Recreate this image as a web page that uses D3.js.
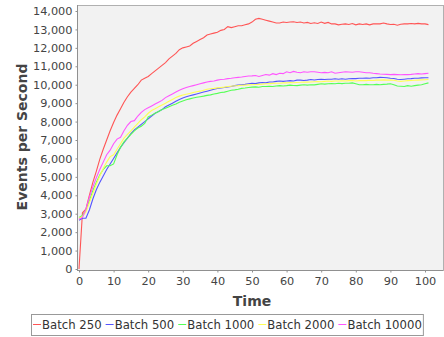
<!DOCTYPE html>
<html>
<head>
<meta charset="utf-8">
<script src="https://cdn.jsdelivr.net/npm/d3@7/dist/d3.min.js"></script>
<style>
  body { margin: 0; background: #fff; }
  text { font-family: "DejaVu Sans", Verdana, sans-serif; }
</style>
</head>
<body>
<div id="placeholder"></div>
<script>
var times = d3.range(0, 102);

var batch250 = [0, 3050, 3250, 4000, 4700, 5300, 5950, 6500, 7000, 7500,
  7950, 8350, 8700, 9050, 9350, 9600, 9800, 10000, 10250, 10350,
  10450, 10600, 10750, 10900, 11050, 11200, 11400, 11550, 11700, 11900,
  12000, 12050, 12100, 12250, 12350, 12450, 12550, 12700, 12750, 12800,
  12850, 12950, 13000, 13150, 13100, 13150, 13200, 13200, 13250, 13300,
  13400, 13550, 13600, 13550, 13500, 13450, 13400, 13350, 13350, 13400,
  13380, 13400, 13420, 13380, 13400, 13350, 13380, 13320, 13360, 13320,
  13400, 13330, 13380, 13300, 13300, 13250, 13280, 13300, 13270, 13320,
  13250, 13300, 13270, 13300, 13250, 13300, 13300, 13300, 13350, 13300,
  13270, 13280, 13230, 13280, 13300, 13300, 13320, 13300, 13330, 13300,
  13300, 13260];

var batch500 = [2650, 2750, 2750, 3200, 3800, 4300, 4700, 5050, 5400, 5700,
  6000, 6300, 6600, 6850, 7100, 7350, 7550, 7700, 7850, 8000,
  8150, 8300, 8450, 8550, 8650, 8800, 8900, 9000, 9100, 9200,
  9280, 9350, 9400, 9450, 9500, 9550, 9600, 9650, 9700, 9750,
  9800, 9820, 9850, 9880, 9900, 9950, 9980, 10000, 10020, 10050,
  10080, 10060, 10100, 10120, 10100, 10150, 10150, 10180, 10200, 10180,
  10200, 10220, 10200, 10250, 10250, 10230, 10250, 10280, 10260, 10280,
  10300, 10280, 10300, 10300, 10320, 10300, 10320, 10300, 10320, 10340,
  10330, 10350, 10350, 10360, 10350, 10380, 10380, 10400, 10390, 10380,
  10350, 10340, 10300, 10280, 10300, 10320, 10330, 10350, 10350, 10370,
  10380, 10380];

var batch1000 = [2800, 2900, 3200, 3700, 4250, 4700, 5100, 5400, 5600, 5600,
  5700, 6200, 6600, 6900, 7100, 7300, 7500, 7650, 7750, 7900,
  8250, 8350, 8450, 8550, 8650, 8720, 8800, 8880, 8950, 9050,
  9120, 9180, 9230, 9280, 9320, 9350, 9380, 9420, 9450, 9500,
  9530, 9580, 9600, 9650, 9700, 9720, 9750, 9800, 9820, 9850,
  9870, 9880, 9860, 9900, 9900, 9920, 9900, 9930, 9950, 9930,
  9950, 9980, 9960, 9950, 9980, 10000, 9980, 10000, 9990, 10020,
  10050, 10030, 10050, 10060, 10050, 10080, 10060, 10080, 10080, 10100,
  10050, 10000, 10000, 10020, 10000, 10000, 10020, 10000, 10020, 10030,
  10050, 10000, 9930, 9920, 9900, 9950, 9920, 9950, 9980, 10000,
  10050, 10100];

var batch2000 = [2750, 2850, 3100, 3600, 4100, 4600, 5050, 5450, 5800, 6100,
  6200, 6500, 6800, 7100, 7300, 7500, 7700, 7900, 8100, 8250,
  8450, 8600, 8700, 8800, 8900, 9000, 9100, 9200, 9300, 9380,
  9440, 9480, 9520, 9580, 9620, 9650, 9700, 9750, 9780, 9800,
  9830, 9850, 9870, 9900, 9920, 9940, 9950, 9970, 9980, 9990,
  10000, 10010, 10020, 10030, 10050, 10060, 10070, 10080, 10080, 10100,
  10100, 10120, 10110, 10120, 10130, 10150, 10140, 10150, 10160, 10170,
  10160, 10180, 10200, 10180, 10200, 10200, 10210, 10200, 10220, 10230,
  10200, 10220, 10230, 10220, 10240, 10230, 10250, 10250, 10260, 10250,
  10250, 10240, 10200, 10180, 10200, 10220, 10230, 10240, 10250, 10260,
  10270, 10280];

var batch10000 = [2700, 2800, 3250, 3900, 4450, 4950, 5400, 5800, 6200, 6450,
  6800, 7050, 7150, 7500, 7800, 8000, 8050, 8300, 8500, 8650,
  8750, 8850, 8950, 9050, 9150, 9300, 9400, 9500, 9600, 9700,
  9780, 9850, 9900, 9950, 10000, 10050, 10100, 10150, 10180, 10200,
  10250, 10280, 10300, 10330, 10350, 10380, 10400, 10420, 10450, 10470,
  10480, 10500, 10450, 10500, 10550, 10520, 10600, 10550, 10620, 10600,
  10700, 10650, 10720, 10680, 10650, 10700, 10680, 10700, 10700, 10680,
  10650, 10670, 10650, 10700, 10620, 10650, 10680, 10700, 10690, 10680,
  10700, 10700, 10680, 10650, 10650, 10620, 10600, 10580, 10570, 10560,
  10550, 10560, 10550, 10540, 10550, 10550, 10560, 10580, 10600, 10580,
  10600, 10620];

var seriesNames = ["Batch 250", "Batch 500", "Batch 1000", "Batch 2000", "Batch 10000"];
var seriesValues = [batch250, batch500, batch1000, batch2000, batch10000];
var seriesColors = ["#FF5555", "#5555FF", "#55FF55", "#FFFF55", "#FF55FF"];

var xTicks = [0, 10, 20, 30, 40, 50, 60, 70, 80, 90, 100];
var yTicks = [0, 1000, 2000, 3000, 4000, 5000, 6000, 7000, 8000, 9000, 10000, 11000, 12000, 13000, 14000];

var W = 444, H = 337;
var plot = { left: 77, top: 5, right: 443, bottom: 270 };

var svg = d3.select("#placeholder").append("svg")
  .attr("width", W).attr("height", H);

var x = d3.scaleLinear().domain([0, 100]).range([79, 425]);
var y = d3.scaleLinear().domain([0, 14000]).range([269, 11]);

// plot background
svg.append("rect")
  .attr("x", plot.left).attr("y", plot.top)
  .attr("width", plot.right - plot.left).attr("height", plot.bottom - plot.top)
  .style("fill", "#f2f2f2")
  .style("stroke", "#b0b0b0")
  .style("stroke-width", 1)
  .attr("transform", "translate(0.5,0.5)");

// axes
var xAxis = svg.append("g")
  .attr("transform", "translate(0," + (plot.bottom + 0.5) + ")")
  .call(d3.axisBottom(x).tickValues(xTicks).tickSize(2).tickSizeOuter(0).tickFormat(d3.format("d")));
var yAxis = svg.append("g")
  .attr("transform", "translate(" + (plot.left + 0.5) + ",0)")
  .call(d3.axisLeft(y).tickValues(yTicks).tickSize(2).tickSizeOuter(0).tickFormat(d3.format(",")));

[xAxis, yAxis].forEach(function (a) {
  a.select(".domain").remove();
  a.selectAll(".tick line").style("stroke", "#909090");
  a.selectAll(".tick text")
    .style("fill", "#444")
    .style("font-size", "11.3px")
    .style("font-family", "DejaVu Sans");
});
xAxis.selectAll(".tick text").attr("dy", "0.71em").attr("y", 6);
yAxis.selectAll(".tick text").attr("x", -5);

svg.append("line")
  .attr("x1", plot.left).attr("x2", plot.right)
  .attr("y1", plot.bottom + 0.5).attr("y2", plot.bottom + 0.5)
  .style("stroke", "#909090");
svg.append("line")
  .attr("x1", plot.left + 0.5).attr("x2", plot.left + 0.5)
  .attr("y1", plot.top).attr("y2", plot.bottom)
  .style("stroke", "#909090");

// lines
var line = d3.line()
  .x(function (d, i) { return x(times[i]); })
  .y(function (d) { return y(d); });

seriesValues.forEach(function (vals, i) {
  svg.append("path")
    .attr("d", line(vals))
    .style("fill", "none")
    .style("stroke", seriesColors[i])
    .style("stroke-width", 1.1);
});

// axis titles
svg.append("text")
  .attr("x", 252).attr("y", 306)
  .attr("text-anchor", "middle")
  .style("font-size", "14px").style("font-weight", "bold").style("fill", "#444")
  .text("Time");

svg.append("text")
  .attr("transform", "translate(27,137) rotate(-90)")
  .attr("text-anchor", "middle")
  .style("font-size", "14px").style("font-weight", "bold").style("fill", "#444")
  .text("Events per Second");

// legend
var legend = svg.append("g");
var lx = 33, ly = 324;
seriesNames.forEach(function (name, i) {
  var g = legend.append("g").attr("transform", "translate(" + lx + ",0)");
  g.append("line")
    .attr("x1", 0).attr("x2", 8)
    .attr("y1", ly + 0.5).attr("y2", ly + 0.5)
    .style("stroke", seriesColors[i]);
  var t = g.append("text")
    .attr("x", 9).attr("y", ly + 4.5)
    .style("font-size", "11.7px").style("fill", "#333")
    .text(name);
  lx += 9 + t.node().getComputedTextLength() + 4;
});
legend.insert("rect", ":first-child")
  .attr("x", 31.5).attr("y", 314.5)
  .attr("width", lx - 31 - 3).attr("height", 21)
  .style("fill", "#fff")
  .style("stroke", "#999");
</script>
</body>
</html>
